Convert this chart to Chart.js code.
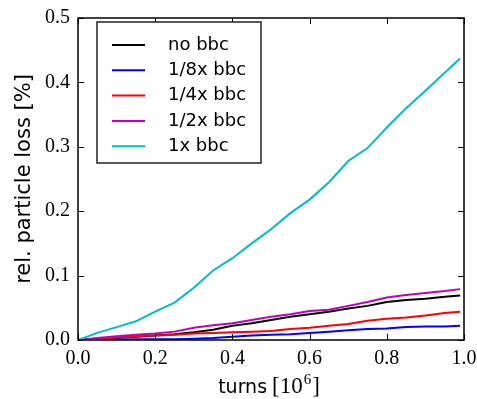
<!DOCTYPE html>
<html><head><meta charset="utf-8">
<script src="https://cdn.jsdelivr.net/npm/chart.js@4"></script>
<style>html,body{margin:0;padding:0;background:#fff}canvas{display:block}</style>
</head><body>
<canvas id="c" width="477" height="399"></canvas>
<script>
const turns   = [0,0.05,0.10,0.15,0.20,0.25,0.30,0.35,0.40,0.45,0.50,0.55,0.60,0.65,0.70,0.75,0.80,0.85,0.90,0.95,0.99];
const noBbc   = [0,0.001,0.003,0.005,0.007,0.009,0.012,0.016,0.022,0.026,0.031,0.036,0.040,0.044,0.049,0.053,0.059,0.062,0.064,0.067,0.069];
const eighthBbc = [0,0,0.0005,0.001,0.001,0.001,0.002,0.003,0.005,0.007,0.008,0.009,0.011,0.013,0.015,0.017,0.018,0.020,0.021,0.021,0.022];
const quarterBbc = [0,0.002,0.004,0.006,0.007,0.008,0.010,0.011,0.012,0.013,0.014,0.017,0.019,0.022,0.025,0.030,0.033,0.035,0.038,0.042,0.044];
const halfBbc = [0,0.003,0.006,0.008,0.010,0.013,0.019,0.023,0.026,0.031,0.036,0.040,0.045,0.047,0.053,0.059,0.066,0.070,0.073,0.076,0.079];
const fullBbc = [0,0.011,0.020,0.029,0.044,0.058,0.081,0.108,0.127,0.150,0.172,0.197,0.218,0.245,0.278,0.298,0.330,0.360,0.387,0.415,0.437];
const seriesLabels = ['no bbc','1/8x bbc','1/4x bbc','1/2x bbc','1x bbc'];
const seriesColors = ['#000000','#0000ff','#ff0000','#bf00bf','#00bfbf'];
const seriesValues = [noBbc, eighthBbc, quarterBbc, halfBbc, fullBbc];
const xTicks = [0,0.2,0.4,0.6,0.8,1.0];
const yTicks = [0,0.1,0.2,0.3,0.4,0.5];

const datasets = seriesValues.map((vals,i)=>({
  label: seriesLabels[i],
  data: turns.map((t,j)=>({x:t, y:vals[j]})),
  borderColor: seriesColors[i],
  backgroundColor: seriesColors[i],
  borderWidth: 2,
  pointRadius: 0,
  tension: 0,
  fill: false,
  order: 5-i
}));

const framePlugin = {
  id:'frame',
  afterDatasetsDraw(chart){
    const {ctx, chartArea:{left,right,top,bottom}, scales:{x,y}} = chart;
    ctx.save();
    ctx.strokeStyle='#000'; ctx.lineWidth=1;
    const L=6;
    ctx.beginPath();
    x.ticks.forEach(t=>{const px=Math.round(x.getPixelForValue(t.value))+0.5;
      ctx.moveTo(px,bottom); ctx.lineTo(px,bottom-L); ctx.moveTo(px,top); ctx.lineTo(px,top+L);});
    y.ticks.forEach(t=>{const py=Math.round(y.getPixelForValue(t.value))+0.5;
      ctx.moveTo(left,py); ctx.lineTo(left+L,py); ctx.moveTo(right,py); ctx.lineTo(right-L,py);});
    ctx.stroke();
    ctx.lineWidth=1.5;
    ctx.strokeRect(left,top,right-left,bottom-top);
    // legend
    const bx=left+19, by=top+4, bw=164, bh=141;
    ctx.fillStyle='#fff'; ctx.fillRect(bx,by,bw,bh);
    ctx.strokeStyle='#222'; ctx.lineWidth=1.5; ctx.strokeRect(bx,by,bw,bh);
    ctx.font='18px "DejaVu Sans"'; ctx.textBaseline='middle'; ctx.textAlign='left';
    chart.data.datasets.forEach((ds,i)=>{
      const ry = by + 23 + i*25.3;
      ctx.strokeStyle=ds.borderColor; ctx.lineWidth=2;
      ctx.beginPath(); ctx.moveTo(bx+15,ry); ctx.lineTo(bx+48,ry); ctx.stroke();
      ctx.fillStyle='#000'; ctx.fillText(ds.label, bx+71, ry);
    });
    // x axis title: "turns [10^6]"
    const parts = [
      {t:'turns', f:'19px "DejaVu Sans"', dy:0, gap:5},
      {t:'[10', f:'23px "Liberation Serif"', dy:0, gap:1},
      {t:'6', f:'15px "Liberation Serif"', dy:-9, gap:1},
      {t:']', f:'23px "Liberation Serif"', dy:0, gap:0}
    ];
    let total=0;
    parts.forEach(p=>{ctx.font=p.f; p.w=ctx.measureText(p.t).width; total+=p.w+p.gap;});
    let cx=(left+right)/2 - total/2 - 2;
    const base=393;
    ctx.fillStyle='#000'; ctx.textBaseline='alphabetic'; ctx.textAlign='left';
    parts.forEach(p=>{ctx.font=p.f; ctx.fillText(p.t,cx,base+p.dy); cx+=p.w+p.gap;});
    ctx.restore();
  }
};

const tickFont = {family:'"Liberation Serif"', size:20};
new Chart(document.getElementById('c'), {
  type:'line',
  data:{datasets},
  options:{
    responsive:false, animation:false,
    layout:{padding:{top:18,right:13,left:0,bottom:0}},
    plugins:{legend:{display:false}, tooltip:{enabled:false}},
    scales:{
      x:{type:'linear', min:0, max:1,
        afterBuildTicks:s=>{s.ticks=xTicks.map(v=>({value:v}));},
        afterFit:s=>{s.height=59; s.paddingLeft=0; s.paddingRight=0;},
        grid:{display:false, drawTicks:false}, border:{display:false},
        ticks:{color:'#000', font:tickFont, padding:7, maxRotation:0, callback:v=>Number(v).toFixed(1)},
        title:{display:false}
      },
      y:{type:'linear', min:0, max:0.5,
        afterBuildTicks:s=>{s.ticks=yTicks.map(v=>({value:v}));},
        afterFit:s=>{s.width=78; s.paddingTop=0; s.paddingBottom=0;},
        grid:{display:false, drawTicks:false}, border:{display:false},
        ticks:{color:'#000', font:tickFont, padding:8, callback:v=>Number(v).toFixed(1)},
        title:{display:true, text:'rel. particle loss [%]', color:'#000', font:{family:'"DejaVu Sans"', size:21}, padding:{top:12,bottom:0}}
      }
    }
  },
  plugins:[framePlugin]
});
</script>
</body></html>
